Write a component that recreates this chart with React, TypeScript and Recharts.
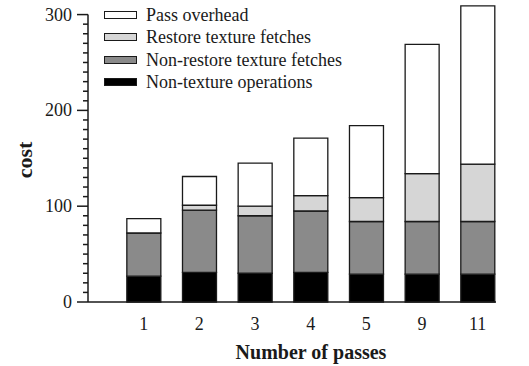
import React from 'react'
import { ComposedChart, Bar, XAxis, YAxis, ReferenceLine } from 'recharts'

// number of passes on the x axis
const passes = ['1', '2', '3', '4', '5', '9', '11']

// stacked cost segments, bottom to top
const nonTexture = [27, 31, 30, 31, 29, 29, 29]
const nonRestore = [45, 65, 60, 64, 55, 55, 55]
const restore = [0, 5, 10, 16, 25, 50, 60]
const overhead = [15, 30, 45, 60, 75, 135, 165]

const yTicks = [
  0, 10, 20, 30, 40, 50, 60, 70, 80, 90, 100, 110, 120, 130, 140, 150, 160, 170, 180, 190, 200,
  210, 220, 230, 240, 250, 260, 270, 280, 290, 300,
]
const xTicks = [0, 1, 2, 3, 4, 5, 6]

const FONT = '"Liberation Serif", "Times New Roman", serif'
const INK = '#1a1a1a'

const series = [
  { key: 'nonTexture', name: 'Non-texture operations', fill: '#000000' },
  { key: 'nonRestore', name: 'Non-restore texture fetches', fill: '#8a8a8a' },
  { key: 'restore', name: 'Restore texture fetches', fill: '#d6d6d6' },
  { key: 'overhead', name: 'Pass overhead', fill: '#ffffff' },
]

const data = passes.map((p, i) => ({
  idx: i,
  label: p,
  nonTexture: nonTexture[i],
  nonRestore: nonRestore[i],
  restore: restore[i],
  overhead: overhead[i],
}))

function YTick(props: any) {
  const { x, y, payload } = props
  const major = payload.value % 100 === 0
  return (
    <g>
      <line x1={x} x2={x - (major ? 11 : 5)} y1={y} y2={y} stroke={INK} strokeWidth={1.5} />
      {major && (
        <text x={x - 16} y={y} dy={6} textAnchor="end" fontFamily={FONT} fontSize={18} fill={INK}>
          {payload.value}
        </text>
      )}
    </g>
  )
}

function LegendBox() {
  const items = [...series].reverse()
  return (
    <div
      style={{
        position: 'absolute',
        left: 104,
        top: 4,
        fontFamily: FONT,
        fontSize: 18,
        lineHeight: '22.3px',
        color: INK,
      }}
    >
      {items.map((s) => (
        <div key={s.key} style={{ display: 'flex', alignItems: 'center', height: 22.3, whiteSpace: 'nowrap' }}>
          <span
            style={{
              display: 'inline-block',
              width: 31,
              height: 6,
              background: s.fill,
              border: '1.5px solid ' + INK,
              marginRight: 9,
            }}
          />
          <span>{s.name}</span>
        </div>
      ))}
    </div>
  )
}

function XTitle(props: any) {
  const vb = props.viewBox
  return (
    <text
      x={vb.x + vb.width / 2 + 19}
      y={vb.y + 57}
      textAnchor="middle"
      fontFamily={FONT}
      fontWeight="bold"
      fontSize={20}
      fill={INK}
    >
      Number of passes
    </text>
  )
}

export default function App() {
  return (
    <div style={{ position: 'absolute', left: 0, top: 0, width: 529, height: 366, background: '#fff' }}>
      <ComposedChart width={529} height={366} data={data} margin={{ top: 5, right: 33, bottom: 0, left: 0 }}>
        <XAxis
          type="number"
          dataKey="idx"
          domain={[-1, 6.33]}
          ticks={xTicks}
          interval={0}
          tickFormatter={(v: number) => passes[v]}
          tickLine={false}
          tickSize={0}
          tickMargin={15}
          height={64}
          axisLine={{ stroke: INK, strokeWidth: 1.5 }}
          tick={{ fontFamily: FONT, fontSize: 18, fill: INK }}
          label={<XTitle />}
        />
        <YAxis
          type="number"
          domain={[0, 310]}
          ticks={yTicks}
          interval={0}
          width={88}
          tickLine={false}
          tickSize={0}
          tickMargin={0}
          axisLine={false}
          tick={<YTick />}
        />
        <text
          x={32}
          y={160}
          transform="rotate(-90 32 160)"
          textAnchor="middle"
          fontFamily={FONT}
          fontWeight="bold"
          fontSize={22}
          fill={INK}
        >
          cost
        </text>
        <ReferenceLine
          segment={[
            { x: -1, y: 0 },
            { x: -1, y: 300 },
          ]}
          stroke={INK}
          strokeWidth={1.5}
          ifOverflow="visible"
        />
        {series.map((s) => (
          <Bar
            key={s.key}
            dataKey={s.key}
            name={s.name}
            stackId="cost"
            fill={s.fill}
            stroke={INK}
            strokeWidth={1.3}
            barSize={34}
            isAnimationActive={false}
          />
        ))}
      </ComposedChart>
      <LegendBox />
    </div>
  )
}
